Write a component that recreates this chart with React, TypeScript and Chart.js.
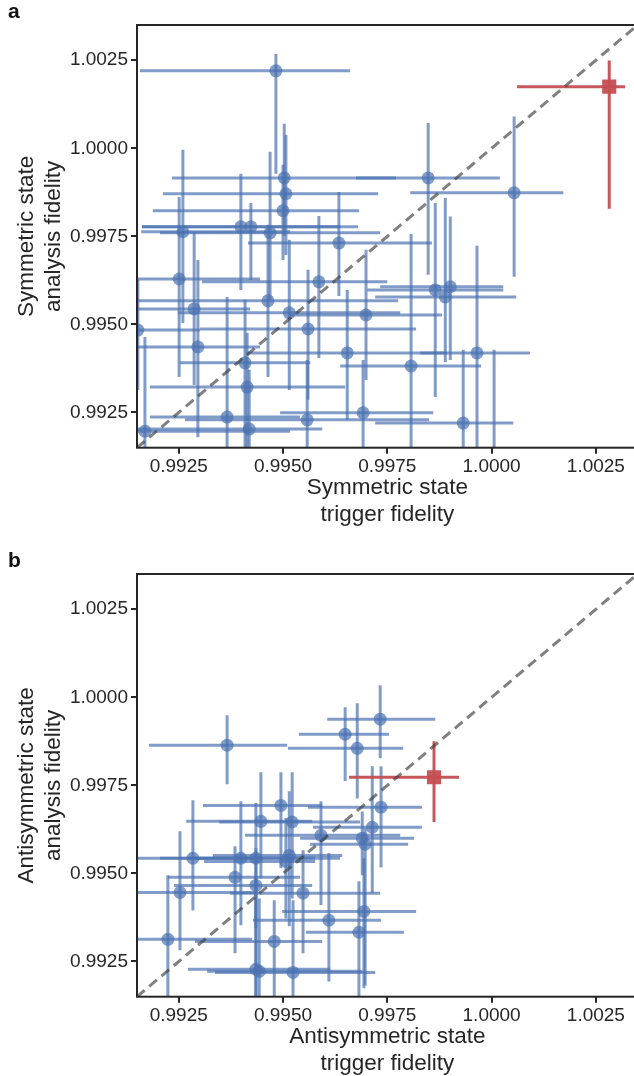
import React, { useEffect, useRef } from 'react';
import { Chart, registerables } from 'chart.js';

Chart.register(...registerables);

// ---------- axis ----------
const axisMin = 0.9915;
const axisMax = 1.0035;
const tickValues = [0.9925, 0.995, 0.9975, 1.0, 1.0025];

// ---------- panel a: symmetric state ----------
const symX = [0.99483,0.99503,0.99507,0.99500,0.99848,1.00054,0.99260,0.99399,0.99423,0.99469,0.99634,0.99251,0.99586,0.99464,0.99287,0.99515,0.99699,0.99560,0.99152,0.99296,0.99654,0.99409,0.99414,0.99366,0.99558,0.99692,0.99419,0.99169,0.99865,0.99901,0.99889,0.99965,0.99807,0.99932,1.00006];
const symY = [1.00220,0.99916,0.99871,0.99823,0.99916,0.99874,0.99763,0.99777,0.99777,0.99760,0.99731,0.99629,0.99621,0.99567,0.99544,0.99533,0.99527,0.99487,0.99484,0.99436,0.99419,0.99391,0.99322,0.99237,0.99229,0.99249,0.99203,0.99197,0.99598,0.99607,0.99578,0.99419,0.99382,0.99220,0.99125];
const symXLo = [0.99157,0.99234,0.99212,0.99188,0.99675,0.99805,0.99160,0.99162,0.99162,0.99205,0.99416,0.99152,0.99306,0.99152,0.99152,0.99248,0.99517,0.99301,0.99061,0.99150,0.99414,0.99253,0.99181,0.99181,0.99265,0.99493,0.99152,0.99061,0.99702,0.99733,0.99721,0.99829,0.99637,0.99721,0.99853];
const symXHi = [0.99661,0.99771,0.99728,0.99682,1.00020,1.00172,0.99517,0.99637,0.99680,0.99733,0.99857,0.99445,0.99750,0.99776,0.99421,0.99781,0.99881,0.99819,0.99301,0.99445,0.99893,0.99565,0.99649,0.99541,0.99850,0.99860,0.99594,0.99517,1.00028,1.00028,1.00059,1.00092,0.99975,1.00052,1.00164];
const symYLo = [0.99928,0.99751,0.99697,0.99683,0.99641,0.99635,0.99504,0.99598,0.99626,0.99570,0.99581,0.99351,0.99405,0.99351,0.99328,0.99314,0.99342,0.99286,0.99314,0.99180,0.99229,0.99115,0.99115,0.99058,0.99058,0.99087,0.99030,0.99002,0.99294,0.99399,0.99393,0.99115,0.99058,0.99002,0.98831];
const symYHi = [1.00268,1.00070,1.00038,0.99953,1.00072,1.00090,0.99996,0.99928,0.99845,0.99990,0.99876,0.99862,0.99808,0.99783,0.99760,0.99740,0.99712,0.99655,0.99626,0.99683,0.99598,0.99570,0.99476,0.99578,0.99399,0.99399,0.99371,0.99464,0.99845,0.99806,0.99859,0.99723,0.99757,0.99428,0.99428];

const symRefX = [1.00282];
const symRefY = [1.00175];
const symRefXLo = [1.00061];
const symRefXHi = [1.00320];
const symRefYLo = [0.99828];
const symRefYHi = [1.00249];

// ---------- panel b: antisymmetric state ----------
const antiX = [0.99366,0.99649,0.99678,0.99733,0.99495,0.99447,0.99522,0.99591,0.99690,0.99697,0.99714,0.99735,0.99284,0.99399,0.99435,0.99515,0.99507,0.99385,0.99435,0.99253,0.99548,0.99694,0.99610,0.99682,0.99224,0.99479,0.99435,0.99443,0.99524];
const antiY = [0.99864,0.99895,0.99855,0.99938,0.99693,0.99648,0.99646,0.99608,0.99600,0.99583,0.99631,0.99688,0.99543,0.99543,0.99543,0.99551,0.99534,0.99489,0.99466,0.99446,0.99444,0.99392,0.99367,0.99333,0.99313,0.99307,0.99228,0.99222,0.99219];
const antiXLo = [0.99179,0.99538,0.99512,0.99606,0.99308,0.99268,0.99347,0.99409,0.99541,0.99565,0.99572,0.99560,0.99100,0.99205,0.99277,0.99332,0.99311,0.99224,0.99239,0.99110,0.99373,0.99498,0.99428,0.99555,0.99100,0.99289,0.99272,0.99318,0.99337];
const antiXHi = [0.99510,0.99754,0.99788,0.99865,0.99594,0.99570,0.99685,0.99781,0.99814,0.99800,0.99833,0.99833,0.99445,0.99577,0.99637,0.99642,0.99577,0.99541,0.99570,0.99438,0.99733,0.99819,0.99735,0.99790,0.99426,0.99594,0.99613,0.99690,0.99721];
const antiYLo = [0.99753,0.99762,0.99713,0.99827,0.99515,0.99486,0.99429,0.99410,0.99495,0.99182,0.99444,0.99517,0.99395,0.99353,0.99344,0.99350,0.99372,0.99273,0.99145,0.99282,0.99273,0.99174,0.99193,0.99088,0.99117,0.99088,0.99032,0.99060,0.99003];
const antiYHi = [0.99949,0.99972,0.99983,1.00034,0.99787,0.99787,0.99787,0.99705,0.99676,0.99628,0.99804,0.99804,0.99708,0.99705,0.99700,0.99733,0.99657,0.99577,0.99571,0.99620,0.99566,0.99543,0.99558,0.99478,0.99495,0.99424,0.99486,0.99429,0.99424];

const antiRefX = [0.99862];
const antiRefY = [0.99773];
const antiRefXLo = [0.99658];
const antiRefXHi = [0.99922];
const antiRefYLo = [0.99646];
const antiRefYHi = [0.99875];

// ---------- styles ----------
const BLUE = 'rgba(76,114,176,0.7)';
const RED = 'rgba(196,78,82,0.95)';
const DIAG = 'rgba(60,60,60,0.65)';
const INK = '#262626';
const FONT = "'Liberation Sans', Arial, Helvetica, sans-serif";

const CANVAS_W = 660;
const CANVAS_H = 540;

function bar(points: { x: number; y: number }[], color: string) {
  return {
    type: 'line',
    data: points,
    borderColor: color,
    borderWidth: 3,
    pointRadius: 0,
    fill: false,
    tension: 0,
    clip: 0,
    borderCapStyle: 'butt',
  };
}

function buildDatasets(
  xs: number[], ys: number[], xlo: number[], xhi: number[], ylo: number[], yhi: number[],
  rx: number[], ry: number[], rxlo: number[], rxhi: number[], rylo: number[], ryhi: number[]
) {
  const ds: any[] = [];
  ds.push({
    type: 'line',
    data: [{ x: axisMin, y: axisMin }, { x: axisMax, y: axisMax }],
    borderColor: DIAG,
    borderWidth: 3,
    borderDash: [10, 6],
    pointRadius: 0,
    fill: false,
    clip: 0,
  });
  ds.push({
    type: 'scatter',
    data: rx.map((x, i) => ({ x, y: ry[i] })),
    pointStyle: 'rect',
    pointRadius: 10,
    backgroundColor: RED,
    borderWidth: 0,
    clip: 0,
  });
  rx.forEach((x, i) => {
    ds.push(bar([{ x: rxlo[i], y: ry[i] }, { x: rxhi[i], y: ry[i] }], RED));
    ds.push(bar([{ x, y: rylo[i] }, { x, y: ryhi[i] }], RED));
  });
  ds.push({
    type: 'scatter',
    data: xs.map((x, i) => ({ x, y: ys[i] })),
    pointStyle: 'circle',
    pointRadius: 6.5,
    backgroundColor: BLUE,
    borderWidth: 0,
    clip: 0,
  });
  xs.forEach((x, i) => {
    ds.push(bar([{ x: xlo[i], y: ys[i] }, { x: xhi[i], y: ys[i] }], BLUE));
    ds.push(bar([{ x, y: ylo[i] }, { x, y: yhi[i] }], BLUE));
  });
  return ds;
}

const framePlugin = {
  id: 'frame',
  afterDatasetsDraw(chart: any) {
    const { ctx, chartArea } = chart;
    ctx.save();
    ctx.strokeStyle = INK;
    ctx.lineWidth = 2;
    ctx.strokeRect(chartArea.left, chartArea.top, chartArea.right - chartArea.left, chartArea.bottom - chartArea.top);
    ctx.restore();
  },
};

function makeScale(axis: 'x' | 'y', title: string[]) {
  const common: any = {
    type: 'linear',
    min: axisMin,
    max: axisMax,
    afterBuildTicks: (s: any) => {
      s.ticks = tickValues.map((v) => ({ value: v }));
    },
    ticks: {
      callback: (v: any) => Number(v).toFixed(4),
      font: { family: FONT, size: 19 },
      color: INK,
      autoSkip: false,
      maxRotation: 0,
      minRotation: 0,
      padding: axis === 'x' ? 2 : 3,
    },
    grid: {
      display: true,
      drawOnChartArea: false,
      drawTicks: true,
      tickLength: 6,
      tickWidth: 2,
      lineWidth: 2,
      color: INK,
      tickColor: INK,
    },
    border: { display: false },
    title: {
      display: true,
      text: title,
      color: INK,
      font: { family: FONT, size: 22.5, lineHeight: 1.2 },
      padding: axis === 'x' ? { top: 0, bottom: 11.5 } : { top: 13.5, bottom: 0 },
    },
  };
  if (axis === 'x') {
    common.position = 'bottom';
    common.afterFit = (s: any) => {
      s.height = 92.3;
    };
  } else {
    common.position = 'left';
    common.afterFit = (s: any) => {
      s.width = 137;
    };
  }
  return common;
}

function Panel(props: {
  top: number;
  label: string;
  xTitle: string[];
  yTitle: string[];
  datasets: any[];
}) {
  const ref = useRef<HTMLCanvasElement | null>(null);
  useEffect(() => {
    if (!ref.current) return;
    const chart = new Chart(ref.current, {
      type: 'scatter',
      data: { datasets: props.datasets },
      options: {
        animation: false,
        responsive: false,
        events: [],
        layout: { padding: { left: 0, top: 25, right: CANVAS_W - 637.6, bottom: 0 } },
        plugins: { legend: { display: false }, tooltip: { enabled: false } },
        scales: {
          x: makeScale('x', props.xTitle),
          y: makeScale('y', props.yTitle),
        },
      } as any,
      plugins: [framePlugin],
    } as any);
    return () => chart.destroy();
  }, []);
  return (
    <>
      <canvas
        ref={ref}
        width={CANVAS_W}
        height={CANVAS_H}
        style={{ position: 'absolute', left: 0, top: props.top, width: CANVAS_W, height: CANVAS_H }}
      />
      <div
        style={{
          position: 'absolute',
          left: 8,
          top: props.top,
          fontFamily: FONT,
          fontWeight: 'bold',
          fontSize: 21,
          lineHeight: '21px',
          color: '#111',
        }}
      >
        {props.label}
      </div>
    </>
  );
}

export default function App() {
  const dsA = buildDatasets(symX, symY, symXLo, symXHi, symYLo, symYHi, symRefX, symRefY, symRefXLo, symRefXHi, symRefYLo, symRefYHi);
  const dsB = buildDatasets(antiX, antiY, antiXLo, antiXHi, antiYLo, antiYHi, antiRefX, antiRefY, antiRefXLo, antiRefXHi, antiRefYLo, antiRefYHi);
  return (
    <div
      style={{
        position: 'absolute',
        left: 0,
        top: 0,
        width: 634,
        height: 1076,
        overflow: 'hidden',
        background: '#fff',
      }}
    >
      <Panel top={0} label="a" xTitle={['Symmetric state', 'trigger fidelity']} yTitle={['Symmetric state', 'analysis fidelity']} datasets={dsA} />
      <Panel top={549} label="b" xTitle={['Antisymmetric state', 'trigger fidelity']} yTitle={['Antisymmetric state', 'analysis fidelity']} datasets={dsB} />
    </div>
  );
}
